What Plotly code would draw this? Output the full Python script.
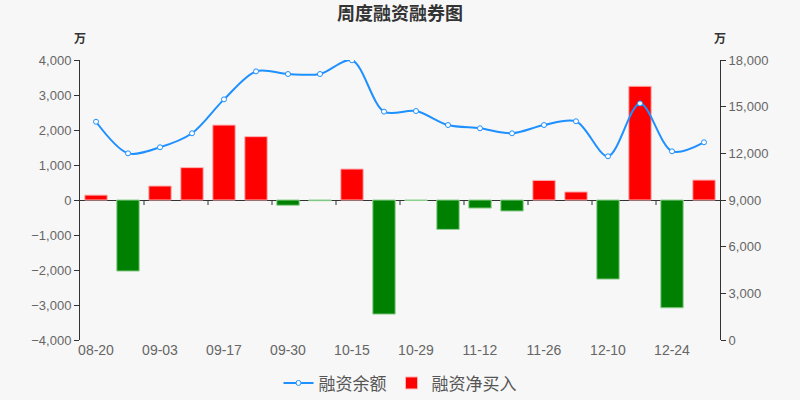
import plotly.graph_objects as go

# weekly dates (every other one is labelled on the axis)
dates = [
    "08-20", "08-27", "09-03", "09-10", "09-17", "09-24", "09-30", "10-08",
    "10-15", "10-22", "10-29", "11-05", "11-12", "11-19", "11-26", "12-03",
    "12-10", "12-17", "12-24", "12-31",
]

# 融资净买入, 万 (left axis)
net_buy = [
    140, -2030, 400, 925, 2140, 1810, -150, -20,
    885, -3260, -15, -840, -230, -315, 560, 230,
    -2260, 3250, -3080, 570,
]

# 融资余额, 万 (right axis)
balance = [
    14030, 12000, 12390, 13290, 15470, 17270, 17100, 17100,
    17980, 14680, 14720, 13820, 13610, 13290, 13820, 14060,
    11810, 15210, 12130, 12710,
]

FONT = "Liberation Sans, Noto Sans CJK SC, sans-serif"
x = list(range(len(dates)))

bar_colors = ["#ff0000" if v >= 0 else "#008000" for v in net_buy]
bar_edges = ["#ffb3b3" if v >= 0 else "#8fd18f" for v in net_buy]

fig = go.Figure()

fig.add_trace(go.Bar(
    x=x, y=net_buy,
    name="融资净买入",
    width=0.7,
    marker=dict(color=bar_colors, line=dict(color=bar_edges, width=1)),
    yaxis="y",
    legendrank=2,
))

fig.add_trace(go.Scatter(
    x=x, y=balance,
    name="融资余额",
    mode="lines+markers",
    line=dict(color="#1e90ff", width=2, shape="spline", smoothing=0.9),
    marker=dict(size=5, color="white", line=dict(color="#1e90ff", width=1)),
    yaxis="y2",
    legendrank=1,
))

# small tick marks on the zero line between every second category
for i in range(1, len(dates) - 1, 2):
    fig.add_shape(
        type="line", xref="x", yref="y",
        x0=i + 0.5, x1=i + 0.5,
        ysizemode="pixel", yanchor=0, y0=0, y1=-5,
        line=dict(color="#333333", width=1),
    )

fig.update_layout(
    width=800, height=400,
    margin=dict(l=80, r=80, t=60, b=60, autoexpand=False),
    paper_bgcolor="#f7f7f7", plot_bgcolor="#f7f7f7",
    font=dict(family=FONT, color="#666666", size=12),
    title=dict(
        text="<b>周度融资融券图</b>",
        x=0.5, xanchor="center", y=0.965, yanchor="middle",
        font=dict(size=18, color="#333333", family="Noto Sans CJK SC"),
    ),
    bargap=0.3,
    showlegend=True,
    legend=dict(
        orientation="h", x=0.5, xanchor="center", y=-0.155, yanchor="middle",
        font=dict(size=17, color="#555555", family="Noto Sans CJK SC"),
        bgcolor="rgba(0,0,0,0)", itemwidth=30,
    ),
    xaxis=dict(
        range=[-0.5, len(dates) - 0.5],
        tickvals=x[::2], ticktext=dates[::2],
        showline=False, showgrid=False, zeroline=False,
        ticks="", tickfont=dict(size=14, color="#666666"),
    ),
    yaxis=dict(
        range=[-4000, 4000], dtick=1000, tickformat=",",
        showline=True, linecolor="#333333", linewidth=1,
        ticks="outside", ticklen=5, tickcolor="#333333",
        showgrid=False, zeroline=True, zerolinecolor="#333333", zerolinewidth=1,
        tickfont=dict(size=13, color="#666666"),
    ),
    yaxis2=dict(
        range=[0, 18000], dtick=3000, tickformat=",",
        overlaying="y", side="right",
        showline=True, linecolor="#333333", linewidth=1,
        ticks="outside", ticklen=5, tickcolor="#333333",
        showgrid=False, zeroline=False,
        tickfont=dict(size=13, color="#666666"),
    ),
    annotations=[
        dict(text="<b>万</b>", xref="paper", yref="paper", x=0, y=1.08,
             xanchor="center", yanchor="middle", showarrow=False,
             font=dict(size=12, color="#333333", family="Noto Sans CJK SC")),
        dict(text="<b>万</b>", xref="paper", yref="paper", x=1, y=1.08,
             xanchor="center", yanchor="middle", showarrow=False,
             font=dict(size=12, color="#333333", family="Noto Sans CJK SC")),
    ],
)

fig.write_html(
    "out.html",
    config={"displayModeBar": False},
    post_script="document.body.style.margin='0';",
)
